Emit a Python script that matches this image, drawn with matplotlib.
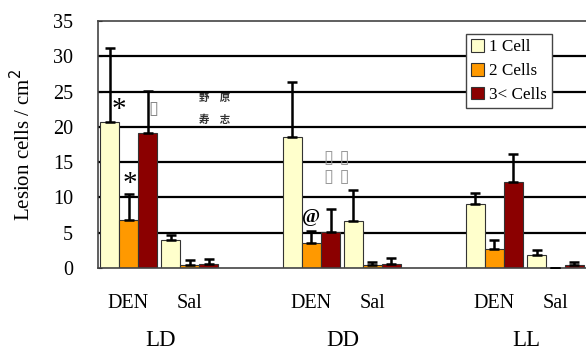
import matplotlib
matplotlib.use("Agg")
import matplotlib.pyplot as plt
import numpy as np

# Data
groups = ["LD", "DD", "LL"]
treatments = ["DEN", "Sal"]
series = ["1 Cell", "2 Cells", "3< Cells"]
colors = ["#FFFFCC", "#FF9900", "#8B0000"]

# values in order: LD-DEN, LD-Sal, DD-DEN, DD-Sal, LL-DEN, LL-Sal
one_cell = [20.7, 4.0, 18.6, 6.6, 9.0, 1.9]
two_cells = [6.8, 0.4, 3.5, 0.4, 2.7, 0.0]
three_cells = [19.2, 0.5, 5.1, 0.5, 12.2, 0.4]
one_cell_err = [10.5, 0.7, 7.7, 4.5, 1.6, 0.7]
two_cells_err = [3.7, 0.7, 1.8, 0.5, 1.3, 0.0]
three_cells_err = [5.9, 0.8, 3.3, 0.9, 3.9, 0.5]

slot_pos = [0, 1, 3, 4, 6, 7]
yticks = [0, 5, 10, 15, 20, 25, 30, 35]

plt.rcParams['font.family'] = ['Liberation Serif', 'DejaVu Serif']

fig = plt.figure(figsize=(5.86, 3.51), dpi=100)
ax = fig.add_axes([98/586, 83/351, 549/586, 247/351])

bw = 19/61
vals = [one_cell, two_cells, three_cells]
errs = [one_cell_err, two_cells_err, three_cells_err]
x = np.array(slot_pos, dtype=float)
for i in range(3):
    xi = x + (i - 1) * bw
    ax.bar(xi, vals[i], width=bw, color=colors[i], edgecolor="#333333",
           linewidth=0.8, label=series[i], zorder=2)
    ax.errorbar(xi, vals[i], yerr=[np.zeros(len(xi)), errs[i]], fmt="none",
                ecolor="black", elinewidth=1.8, capsize=3.5, capthick=1.8, zorder=3)

ax.set_xlim(-0.5, 8.5)
ax.set_ylim(0, 35)
ax.set_yticks(yticks)
ax.set_yticklabels([str(t) for t in yticks], fontsize=14.5)
for y in yticks[1:-1]:
    ax.axhline(y, color="black", linewidth=1.6, zorder=1)
ax.tick_params(axis="y", direction="in", length=3, pad=18)
ax.set_xticks([])
for s in ax.spines.values():
    s.set_color("#444444")
    s.set_linewidth(1.2)

ax.set_ylabel("Lesion cells / cm$^2$", fontsize=15, labelpad=13)

# x labels
for j, g in enumerate(groups):
    for k, t in enumerate(treatments):
        ax.text(slot_pos[2*j + k], -5.7, t, ha="center", va="baseline", fontsize=14.5)
    ax.text(slot_pos[2*j] + 0.52, -11.1, g, ha="center", va="baseline", fontsize=16.5)

# annotations
ax.text(-0.16, 22.4, "*", ha="center", va="center", fontsize=21)
ax.text(0.03, 11.9, "*", ha="center", va="center", fontsize=21)
ax.text(3, 7.1, "@", ha="center", va="center", fontsize=14, fontweight="bold")
ax.text(1.41, 24.1, "野　原", ha="center", va="center", fontsize=7.5,
        family=["Noto Sans CJK JP"], fontweight="bold", color="#333333")
ax.text(1.41, 21.0, "寿　志", ha="center", va="center", fontsize=7.5,
        family=["Noto Sans CJK JP"], fontweight="bold", color="#333333")
ax.text(0.41, 22.5, "\u25af", ha="center", va="center", fontsize=13,
        family=["DejaVu Sans"], color="#888888")
ax.text(3.42, 15.6, "\u25af \u25af", ha="center", va="center", fontsize=13,
        family=["DejaVu Sans"], color="#999999")
ax.text(3.42, 12.9, "\u25af \u25af", ha="center", va="center", fontsize=13,
        family=["DejaVu Sans"], color="#999999")

leg = ax.legend(loc="upper left", bbox_to_anchor=(368/549, 234/247), fontsize=12.3,
                frameon=True, fancybox=False, edgecolor="#444444", framealpha=1,
                handlelength=0.75, handleheight=0.75, handletextpad=0.3,
                borderpad=0.3, labelspacing=0.45, borderaxespad=0)
leg.get_frame().set_linewidth(1.0)

fig.savefig("out.png", dpi=100)
